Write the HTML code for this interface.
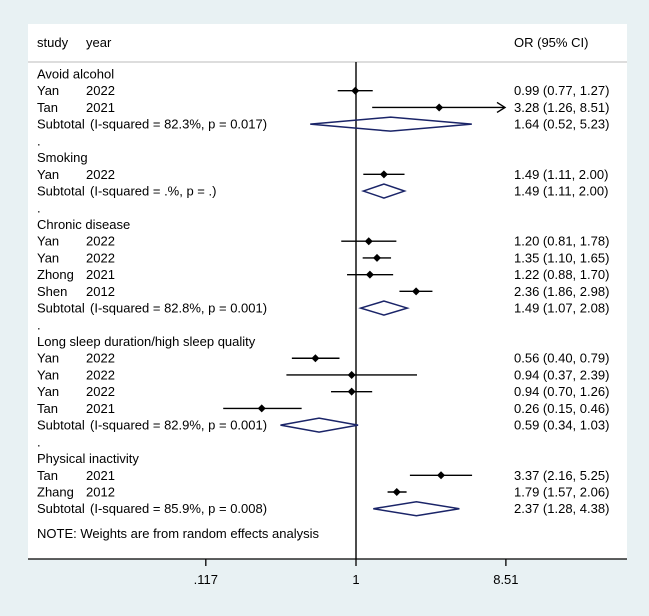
<!DOCTYPE html>
<html><head><meta charset="utf-8"><style>
body{margin:0;background:#e8f1f3;}
svg{display:block;font-family:"Liberation Sans",Arial,sans-serif;font-size:13px;}
</style></head><body>
<svg id="chart" width="649" height="616" viewBox="0 0 649 616" xmlns="http://www.w3.org/2000/svg">
<rect x="0" y="0" width="649" height="616" fill="#e8f1f3"/>
<rect x="28" y="24" width="599" height="535" fill="#ffffff"/>
<text x="37" y="47">study</text>
<text x="86" y="47">year</text>
<text x="514" y="47">OR (95% CI)</text>
<line x1="28" y1="62" x2="627" y2="62" stroke="#bbbbbb" stroke-width="1"/>
<g id="rows"></g>
<text x="37" y="538">NOTE: Weights are from random effects analysis</text>
<line x1="28" y1="559" x2="627" y2="559" stroke="#000" stroke-width="1.3"/>
<g id="ticks"></g>
</svg>
<script>
const labels = ["Avoid alcohol","Yan|2022","Tan|2021","Subtotal|(I-squared = 82.3%, p = 0.017)",".","Smoking","Yan|2022","Subtotal|(I-squared = .%, p = .)",".","Chronic disease","Yan|2022","Yan|2022","Zhong|2021","Shen|2012","Subtotal|(I-squared = 82.8%, p = 0.001)",".","Long sleep duration/high sleep quality","Yan|2022","Yan|2022","Yan|2022","Tan|2021","Subtotal|(I-squared = 82.9%, p = 0.001)",".","Physical inactivity","Tan|2021","Zhang|2012","Subtotal|(I-squared = 85.9%, p = 0.008)"];
const orValues = [null,0.99,3.28,1.64,null,null,1.49,1.49,null,null,1.20,1.35,1.22,2.36,1.49,null,null,0.56,0.94,0.94,0.26,0.59,null,null,3.37,1.79,2.37];
const lowerCI = [null,0.77,1.26,0.52,null,null,1.11,1.11,null,null,0.81,1.10,0.88,1.86,1.07,null,null,0.40,0.37,0.70,0.15,0.34,null,null,2.16,1.57,1.28];
const upperCI = [null,1.27,8.51,5.23,null,null,2.00,2.00,null,null,1.78,1.65,1.70,2.98,2.08,null,null,0.79,2.39,1.26,0.46,1.03,null,null,5.25,2.06,4.38];
const tickValues = [0.117,1,8.51];
const tickLabels = [".117","1","8.51"];
const NS="http://www.w3.org/2000/svg";
function xScale(v){return 356+70*Math.log(v);}
function yRow(i){return 74+i*16.72;}
const g=document.getElementById('rows');
function mk(tag,attrs,parent){const e=document.createElementNS(NS,tag);for(const k in attrs)e.setAttribute(k,attrs[k]);(parent||g).appendChild(e);return e;}
const ref=mk('line',{x1:356,y1:62,x2:356,y2:559,stroke:'#000','stroke-width':1.4});


labels.forEach((lab,i)=>{
  const y=yRow(i);
  const parts=lab.split('|');
  const isSub=parts[0]==='Subtotal';
  const t1=mk('text',{x:37,y:y+4.5});
  t1.textContent=parts[0];
  
  
  if(parts[1]){
    const t2=mk('text',{x:isSub?90:86,y:y+4.5});
    t2.textContent=parts[1];
    
    
  }
  const v=orValues[i];
  if(v==null)return;
  const lo=lowerCI[i],hi=upperCI[i];
  const xv=xScale(v),xl=xScale(lo),xh=xScale(hi);
  const ot=mk('text',{x:514,y:y+4.5});
  ot.textContent=v.toFixed(2)+' ('+lo.toFixed(2)+', '+hi.toFixed(2)+')';
  
  
  if(isSub){
    const d=mk('polygon',{points:`${xl},${y} ${xv},${y-7} ${xh},${y} ${xv},${y+7}`,fill:'none',stroke:'#1a2468','stroke-width':1.5});
    
    
  } else {
    const xe=Math.min(xh,505);
    const l=mk('line',{x1:xl,y1:y,x2:xe,y2:y,stroke:'#000','stroke-width':1.4});
    
    
    if(hi>=8.5){
      const a=mk('polyline',{points:`${xe-8},${y-5} ${xe},${y} ${xe-8},${y+5}`,fill:'none',stroke:'#000','stroke-width':1.4});
      
      
    }
    const p=mk('polygon',{points:`${xv-4},${y} ${xv},${y-4} ${xv+4},${y} ${xv},${y+4}`,fill:'#000'});
    
    
  }
});
const tg=document.getElementById('ticks');
tickValues.forEach((v,i)=>{
  const x=xScale(v);
  const tl=mk('line',{x1:x,y1:559,x2:x,y2:566,stroke:'#000','stroke-width':1.3},tg);
  
  
  const tt=mk('text',{x:x,y:584,'text-anchor':'middle'},tg);
  tt.textContent=tickLabels[i];
  
  
});
</script>
</body></html>
